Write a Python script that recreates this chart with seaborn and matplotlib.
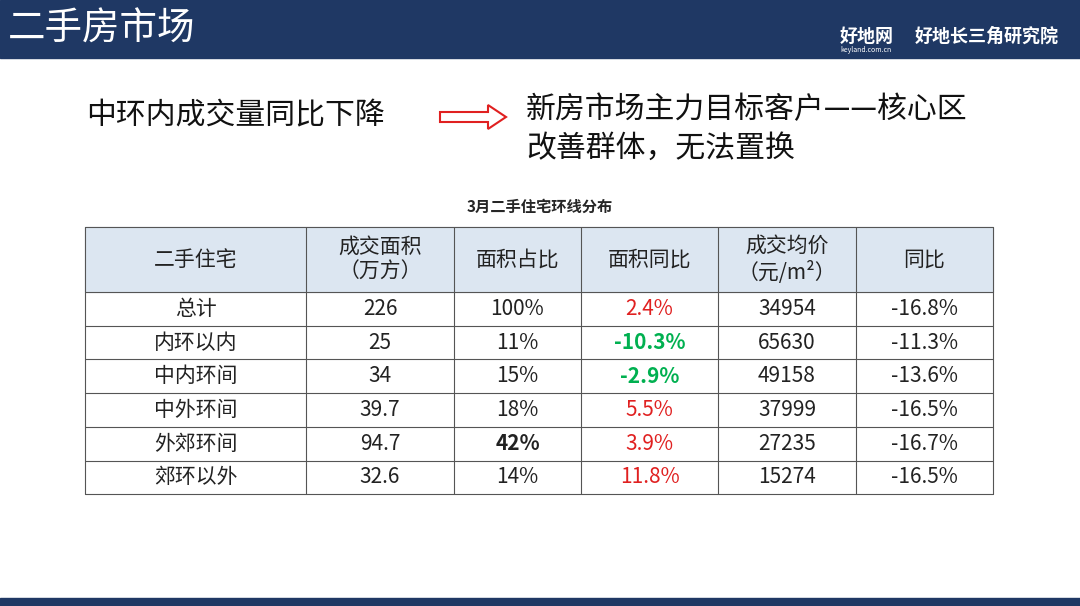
import matplotlib
matplotlib.use("Agg")
import matplotlib.pyplot as plt
import seaborn as sns
from matplotlib.patches import Rectangle, FancyArrow

sns.set_theme(style="white")
plt.rcParams['font.family'] = ['Noto Sans CJK SC', 'DejaVu Sans']

# 表格数据
headers = ['二手住宅', '成交面积\n（万方）', '面积占比', '面积同比', '成交均价\n（元/m²）', '同比']
rings = ['总计', '内环以内', '中内环间', '中外环间', '外郊环间', '郊环以外']
area = ['226', '25', '34', '39.7', '94.7', '32.6']
share = ['100%', '11%', '15%', '18%', '42%', '14%']
area_yoy = [2.4, -10.3, -2.9, 5.5, 3.9, 11.8]
price = ['34954', '65630', '49158', '37999', '27235', '15274']
price_yoy = ['-16.8%', '-11.3%', '-13.6%', '-16.5%', '-16.7%', '-16.5%']

W, H = 1080, 606
fig = plt.figure(figsize=(W / 100, H / 100), dpi=100)
ax = fig.add_axes([0, 0, 1, 1])
ax.set_xlim(0, W)
ax.set_ylim(H, 0)
ax.axis('off')

navy = '#1f3864'
# 顶部横幅
ax.add_patch(Rectangle((0, 0), W, 58, color=navy))
ax.text(8, 29, '二手房市场', color='white', fontsize=27, va='center')
ax.text(840, 36, '好地网', color='white', fontsize=13, va='center', weight='bold')
ax.text(840, 50, 'keyland.com.cn', color='white', fontsize=5, va='center')
ax.text(915, 36, '好地长三角研究院', color='white', fontsize=13, va='center', weight='bold')
ax.add_patch(Rectangle((0, 598), W, 8, color=navy))

# 说明文字
ax.text(86, 116, '中环内成交量同比下降', fontsize=21.5, va='center', color='#111111')
ax.add_patch(FancyArrow(440, 117, 48, 0, width=10, head_width=24, head_length=18,
                        length_includes_head=False, facecolor='white', edgecolor='#e02020', lw=1.5))
ax.text(526, 110, '新房市场主力目标客户——核心区', fontsize=21.5, va='center', color='#111111')
ax.text(526, 148, '改善群体，无法置换', fontsize=21.5, va='center', color='#111111')

ax.text(540, 207, '3月二手住宅环线分布', fontsize=11, weight='bold', ha='center', va='center')

# 表格
cols = [85, 306, 454, 581, 718, 856, 993]
top, head_h, row_h = 227, 65, 33.7
ax.add_patch(Rectangle((cols[0], top), cols[-1] - cols[0], head_h, color='#dce6f1'))
for j, h in enumerate(headers):
    ax.text((cols[j] + cols[j + 1]) / 2, top + head_h / 2, h, fontsize=15, ha='center',
            va='center', linespacing=1.2, color='#222222')

for i in range(len(rings)):
    yc = top + head_h + row_h * (i + 0.5)
    yoy = area_yoy[i]
    yoy_color = '#e02020' if yoy > 0 else '#00b050'
    cells = [(rings[i], '#222222', 'normal'), (area[i], '#222222', 'normal'),
             (share[i], '#222222', 'bold' if share[i] == '42%' else 'normal'),
             (f'{yoy:.1f}%', yoy_color, 'bold' if yoy < 0 else 'normal'),
             (price[i], '#222222', 'normal'), (price_yoy[i], '#222222', 'normal')]
    for j, (t, c, w) in enumerate(cells):
        ax.text((cols[j] + cols[j + 1]) / 2, yc, t, fontsize=15, ha='center', va='center',
                color=c, weight=w)

bottom = top + head_h + row_h * len(rings)
for x in cols:
    ax.plot([x, x], [top, bottom], color='#555555', lw=0.8)
ys = [top, top + head_h] + [top + head_h + row_h * (i + 1) for i in range(len(rings))]
for y in ys:
    ax.plot([cols[0], cols[-1]], [y, y], color='#555555', lw=0.8)

fig.savefig('out.png', dpi=100, facecolor='white')
